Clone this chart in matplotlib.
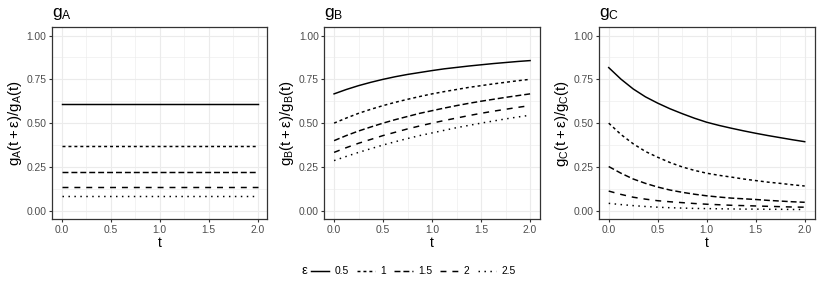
import numpy as np
import matplotlib
matplotlib.use('Agg')
import matplotlib.pyplot as plt
from matplotlib.lines import Line2D

plt.rcParams['font.family'] = ['Liberation Sans', 'DejaVu Sans']
plt.rcParams['mathtext.fontset'] = 'custom'
plt.rcParams['mathtext.rm'] = 'Liberation Sans'
plt.rcParams['mathtext.it'] = 'Liberation Sans'

# values, t in steps of 0.125
t = [0.0, 0.125, 0.25, 0.375, 0.5, 0.625, 0.75, 0.875, 1.0,
     1.125, 1.25, 1.375, 1.5, 1.625, 1.75, 1.875, 2.0]
eps_labels = ['0.5', '1', '1.5', '2', '2.5']

gA_05 = [0.607] * 17
gA_1 = [0.368] * 17
gA_15 = [0.223] * 17
gA_2 = [0.135] * 17
gA_25 = [0.082] * 17

gB_05 = [0.667, 0.692, 0.714, 0.733, 0.750, 0.765, 0.778, 0.789, 0.800,
         0.810, 0.818, 0.826, 0.833, 0.840, 0.846, 0.852, 0.857]
gB_1 = [0.500, 0.529, 0.556, 0.579, 0.600, 0.619, 0.636, 0.652, 0.667,
        0.680, 0.692, 0.704, 0.714, 0.724, 0.733, 0.742, 0.750]
gB_15 = [0.400, 0.429, 0.455, 0.478, 0.500, 0.520, 0.538, 0.556, 0.571,
         0.586, 0.600, 0.613, 0.625, 0.636, 0.647, 0.657, 0.667]
gB_2 = [0.333, 0.360, 0.385, 0.407, 0.429, 0.448, 0.467, 0.484, 0.500,
        0.515, 0.529, 0.543, 0.556, 0.568, 0.579, 0.590, 0.600]
gB_25 = [0.286, 0.310, 0.333, 0.354, 0.375, 0.394, 0.412, 0.429, 0.444,
         0.459, 0.474, 0.487, 0.500, 0.512, 0.524, 0.535, 0.545]

gC_05 = [0.817, 0.751, 0.695, 0.650, 0.614, 0.582, 0.554, 0.528, 0.505,
         0.487, 0.471, 0.456, 0.442, 0.429, 0.417, 0.405, 0.394]
gC_1 = [0.500, 0.435, 0.382, 0.338, 0.305, 0.275, 0.250, 0.230, 0.214,
        0.202, 0.192, 0.181, 0.172, 0.163, 0.156, 0.148, 0.141]
gC_15 = [0.252, 0.214, 0.181, 0.156, 0.135, 0.118, 0.105, 0.094, 0.085,
         0.078, 0.072, 0.068, 0.064, 0.059, 0.055, 0.051, 0.048]
gC_2 = [0.112, 0.093, 0.077, 0.066, 0.057, 0.051, 0.046, 0.041, 0.037,
        0.034, 0.031, 0.029, 0.027, 0.025, 0.023, 0.021, 0.020]
gC_25 = [0.042, 0.035, 0.029, 0.024, 0.020, 0.017, 0.015, 0.013, 0.012,
         0.011, 0.010, 0.009, 0.009, 0.008, 0.008, 0.007, 0.007]

panels = [('A', [gA_05, gA_1, gA_15, gA_2, gA_25]),
          ('B', [gB_05, gB_1, gB_15, gB_2, gB_25]),
          ('C', [gC_05, gC_1, gC_15, gC_2, gC_25])]

# ggplot default linetypes: solid, 22, 42, 44, 13
dashes = [None, (2, 2), (4, 2), (4, 4), (1, 3)]
lw = 1.07

fig = plt.figure(figsize=(8.22, 2.88), dpi=100)
lefts = [0.0629, 0.3945, 0.7286]

for left, (name, series) in zip(lefts, panels):
    ax = fig.add_axes([left, 0.238, 0.2623, 0.669])
    for y, d in zip(series, dashes):
        line, = ax.plot(t, y, color='black', lw=lw)
        if d is not None:
            line.set_dashes(d)
    ax.set_xlim(-0.1, 2.1)
    ax.set_ylim(-0.05, 1.05)
    ax.set_xticks([0, 0.5, 1.0, 1.5, 2.0])
    ax.set_xticklabels(['0.0', '0.5', '1.0', '1.5', '2.0'])
    ax.set_xticks([0.25, 0.75, 1.25, 1.75], minor=True)
    ax.set_yticks([0, 0.25, 0.5, 0.75, 1.0])
    ax.set_yticklabels(['0.00', '0.25', '0.50', '0.75', '1.00'])
    ax.set_yticks([0.125, 0.375, 0.625, 0.875], minor=True)
    ax.grid(True, which='major', color='#EBEBEB', lw=0.8)
    ax.grid(True, which='minor', color='#EBEBEB', lw=0.4)
    ax.set_axisbelow(True)
    for s in ax.spines.values():
        s.set_color('#333333')
        s.set_linewidth(0.9)
    ax.tick_params(which='major', length=2.3, width=0.8, color='#333333',
                   labelsize=7.4, labelcolor='#4D4D4D', pad=1.5)
    ax.tick_params(which='minor', length=0)
    ax.set_xlabel('t', fontsize=10, labelpad=1)
    ax.set_ylabel(r'$\mathrm{g_%s(t+ε)/g_%s(t)}$' % (name, name), fontsize=10.8, labelpad=2)
    ax.set_title(r'$\mathrm{g_%s}$' % name, loc='left', fontsize=12.5, pad=7)

# legend along the bottom
handles = []
for d in dashes:
    h = Line2D([], [], color='black', lw=lw)
    if d is not None:
        h.set_dashes(d)
    handles.append(h)
fig.text(0.367, 0.058, 'ε', fontsize=9.3, va='center', ha='left')
fig.legend(handles, eps_labels, loc='center left', bbox_to_anchor=(0.378, 0.058),
           ncol=5, frameon=False, fontsize=7.4, handlelength=1.8,
           handletextpad=0.5, columnspacing=0.8, borderpad=0, borderaxespad=0)

fig.savefig('out.png', dpi=100)
